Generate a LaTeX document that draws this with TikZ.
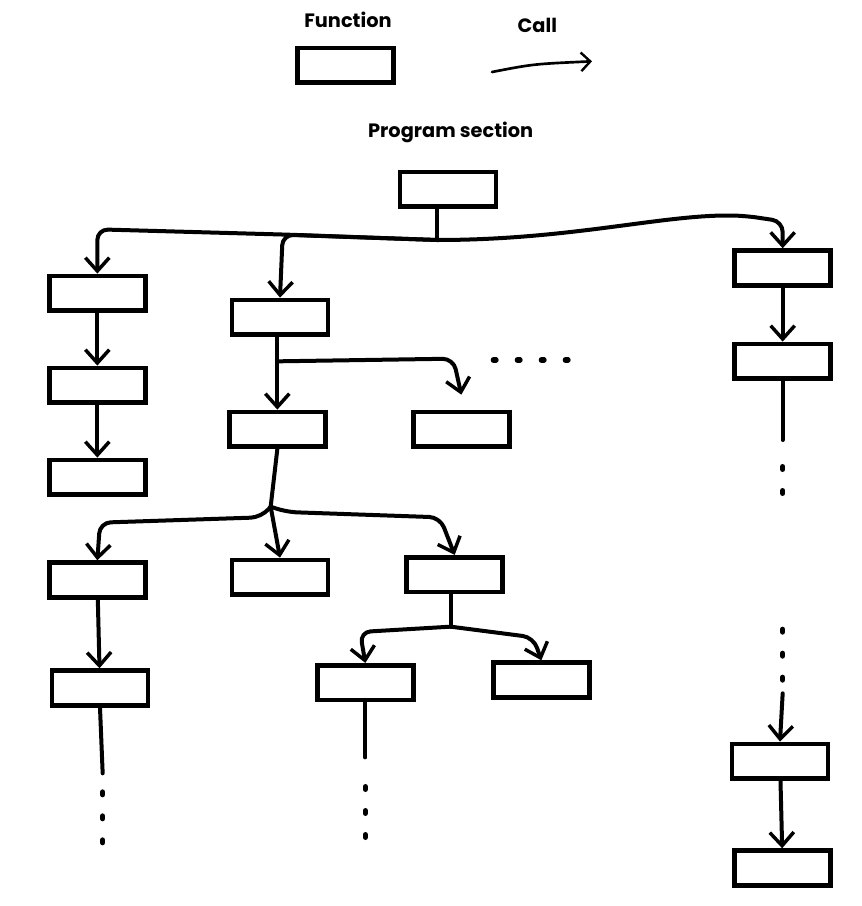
\documentclass[tikz,border=0pt]{standalone}
\usepackage{fontspec}
\setmainfont{Poppins}
\usetikzlibrary{arrows.meta}
\begin{document}
\begin{tikzpicture}[x=1pt,y=-1pt,
  box/.style={draw=black,line width=3.6pt,minimum width=72pt,minimum height=26pt,inner sep=0pt},
  ln/.style={line width=3pt,line cap=round,rounded corners=8pt},
  ar/.style={ln,-{Straight Barb[length=10pt,width=18pt,line width=2.6pt]}},
  dt/.style={line width=4pt,line cap=round,dash pattern=on 2pt off 16pt},
  lbl/.style={font=\fontsize{14.5}{18}\selectfont\bfseries}]
\useasboundingbox (0,0) rectangle (646.5,679.5);
% legend
\node[lbl] (tf) at (261,15) {Function};
\node[lbl] (tc) at (403,19) {Call};
\node[box] (leg) at (259,49) {};
\coordinate (la) at (369,54);
\coordinate (lb) at (444,46);
\draw[ln,line width=2pt,-{Straight Barb[length=7pt,width=14pt,line width=1.8pt]}] (la) .. controls (400,48) .. (lb);
\node[lbl] (tp) at (338,99) {Program section};
% boxes
\node[box] (r) at (336,142) {};
\node[box] (a1) at (73,220) {};
\node[box] (b1) at (210,238) {};
\node[box] (c1) at (587,201) {};
\node[box] (a2) at (73,289) {};
\node[box] (a3) at (73,358) {};
\node[box] (b2) at (208,322) {};
\node[box] (b3) at (346,322) {};
\node[box] (c2) at (587,271) {};
\node[box] (d1) at (73,435) {};
\node[box] (d2) at (210,433) {};
\node[box] (d3) at (341,431) {};
\node[box] (e1) at (75,516) {};
\node[box] (f1) at (274,512) {};
\node[box] (f2) at (406,510) {};
\node[box] (c3) at (585,571) {};
\node[box] (c4) at (587,651) {};
% root branching
\coordinate (rj) at (328,180);
\draw[ln] (r.south -| rj) -- (rj);
\draw[ar] (rj) -- (216,176) -- (73,172) -- (a1.north);
\draw[ar] (rj) -- (212,176) -- (b1.north);
\draw[ar] (rj) .. controls (430,180) and (500,160) .. (560,162) -- (587,166) -- (c1.north);
\draw[ar] (a1) -- (a2);
\draw[ar] (a2) -- (a3);
% b1 branching
\coordinate (bj) at (208,271);
\draw[ar] (b1.south -| bj) -- (bj) -- (b2.north);
\draw[ar] (bj) -- (340,269) -- (346,296) ;
\coordinate (bd) at (370,270);
\draw[dt] (bd) -- (430,270);
\draw[ar] (c1) -- (c2);
% c column
\coordinate (cx) at (587,330);
\draw[ln] (c2.south) -- (cx);
\draw[dt] (587,350) -- (587,380);
\draw[dt] (587,472) -- (587,510);
\coordinate (cy) at (587,520);
\draw[ar] (cy) -- (c3.north);
\draw[ar] (c3) -- (c4);
% b2 branching
\coordinate (dj) at (203,380);
\draw[ln] (b2.south) -- (dj);
\draw[ar] (dj) -- (196,388) -- (75,392) -- (d1.north);
\draw[ar] (dj) -- (d2.north);
\draw[ar] (dj) -- (215,384) -- (330,388) -- (d3.north);
\draw[ar] (d1) -- (e1);
\coordinate (ex) at (77,580);
\draw[ln] (e1.south) -- (ex);
\draw[dt] (77,594) -- (77,640);
% d3 branching
\coordinate (gj) at (338,470);
\draw[ln] (d3.south -| gj) -- (gj);
\draw[ar] (gj) -- (270,474) -- (f1.north);
\draw[ar] (gj) -- (400,478) -- (f2.north);
\coordinate (fx) at (274,568);
\draw[ln] (f1.south) -- (fx);
\draw[dt] (274,590) -- (274,636);
\end{tikzpicture}
\end{document}
